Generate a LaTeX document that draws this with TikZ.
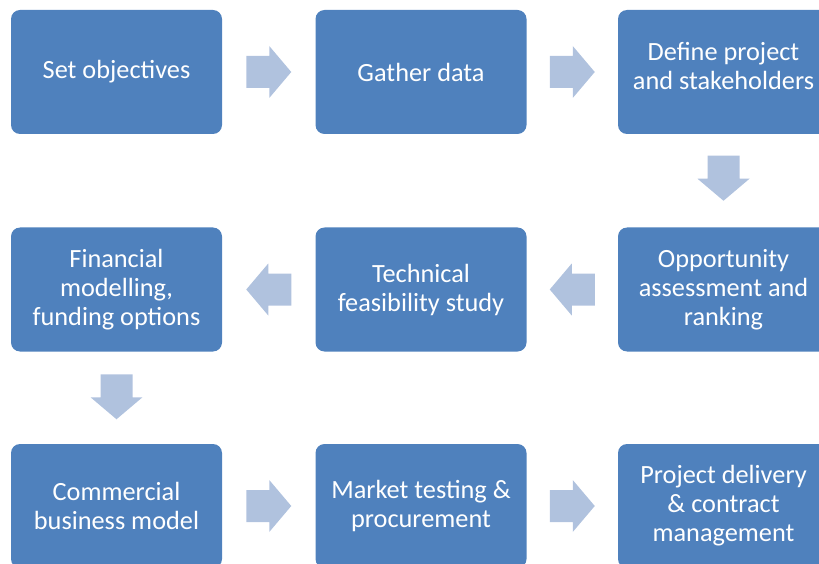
\documentclass[tikz,border=0pt]{standalone}
\usepackage{fontspec}
\setmainfont{Carlito}
\usetikzlibrary{calc}
\definecolor{boxblue}{HTML}{4F81BD}
\definecolor{arrowblue}{HTML}{B0C2DE}
\tikzset{
  stepbox/.style={rectangle, rounded corners=9pt, fill=boxblue, text=white,
    minimum width=211pt, minimum height=124pt, inner sep=0pt, align=center,
    font=\fontsize{26.3}{29}\selectfont},
  pics/blockarrow/.style={code={
    \fill[arrowblue] (-22.5,-16) -- (0.5,-16) -- (0.5,-26) -- (22.5,0) -- (0.5,26) -- (0.5,16) -- (-22.5,16) -- cycle;}}
}
\begin{document}
\begin{tikzpicture}[x=1pt,y=1pt]
\useasboundingbox (0,0) rectangle (819,-564);
\clip (0,0) rectangle (819,-564);
% row 1
\node[stepbox] (s1) at (116.5,-72) {Set objectives};
\node[stepbox] (s2) at (421,-72) {Gather data};
\node[stepbox, text depth=12pt] (s3) at (723.5,-72) {Define project\\and stakeholders};
% row 2
\node[stepbox] (s4) at (723.5,-289.5) {Opportunity\\assessment and\\ranking};
\node[stepbox] (s5) at (421,-289.5) {Technical\\feasibility study};
\node[stepbox] (s6) at (116.5,-289.5) {Financial\\modelling,\\funding options};
% row 3
\node[stepbox] (s7) at (116.5,-506) {Commercial\\business model};
\node[stepbox] (s8) at (421,-506) {Market testing \&\\procurement};
\node[stepbox] (s9) at (723.5,-506) {Project delivery\\\& contract\\management};
% connectors
\coordinate (a12) at ($(s1.east)!0.5!(s2.west)$);
\coordinate (a23) at ($(s2.east)!0.5!(s3.west)$);
\coordinate (a34) at ($(s3.south)!0.5!(s4.north)$);
\coordinate (a45) at ($(s4.west)!0.5!(s5.east)$);
\coordinate (a56) at ($(s5.west)!0.5!(s6.east)$);
\coordinate (a67) at ($(s6.south)!0.5!(s7.north)$);
\coordinate (a78) at ($(s7.east)!0.5!(s8.west)$);
\coordinate (a89) at ($(s8.east)!0.5!(s9.west)$);
\pic at (a12) {blockarrow};
\pic at (a23) {blockarrow};
\pic[rotate=-90] at ($(a34)+(0,2.5)$) {blockarrow};
\pic[rotate=180] at (a45) {blockarrow};
\pic[rotate=180] at (a56) {blockarrow};
\pic[rotate=-90] at ($(a67)+(0,1)$) {blockarrow};
\pic at (a78) {blockarrow};
\pic at (a89) {blockarrow};
\end{tikzpicture}
\end{document}
